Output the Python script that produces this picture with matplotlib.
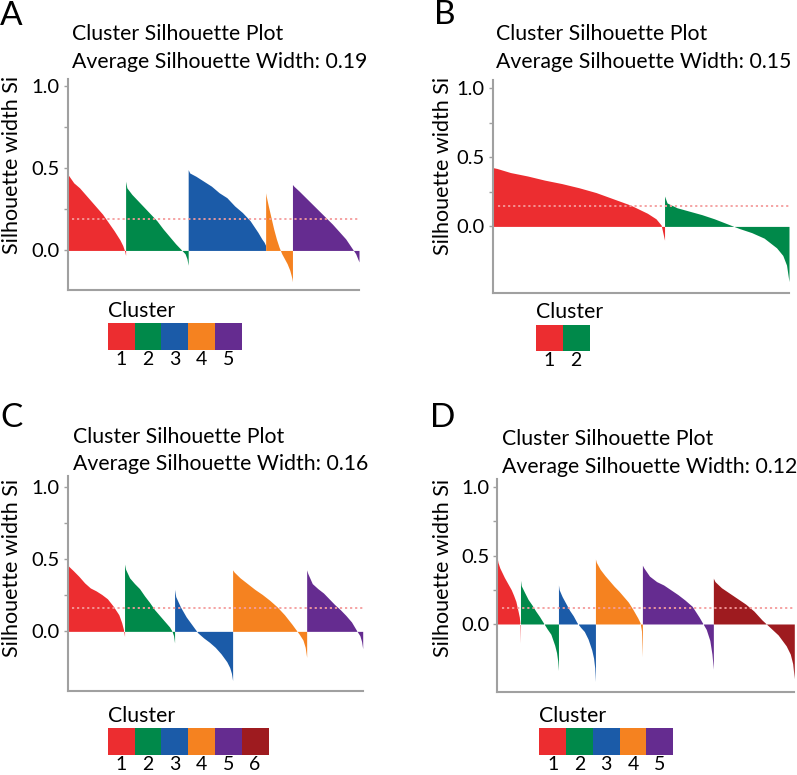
import matplotlib
matplotlib.use("Agg")
import matplotlib.pyplot as plt

plt.rcParams['font.family'] = ['Lato', 'DejaVu Sans']

W, H = 797, 775

COLORS = ['#EC2D30', '#00894A', '#1B5BA8', '#F58220', '#652C90', '#9E1B1F']
AVG_COLOR = '#F49C9C'

# positions along each cluster (fraction of its width) where the sorted
# silhouette values were read off
FRACS = [0, 0.02, 0.1, 0.2, 0.3, 0.4, 0.5, 0.6, 0.7, 0.8, 0.9, 0.95, 0.98, 1.0]

# panel A - 5 clusters
sizes_a = [58, 63, 78, 27, 67]
sil_a = [
    [0.46, 0.45, 0.41, 0.38, 0.34, 0.30, 0.26, 0.22, 0.17, 0.12, 0.065, 0.03, 0.0, -0.03],
    [0.42, 0.38, 0.34, 0.30, 0.26, 0.22, 0.18, 0.13, 0.085, 0.04, 0.0, -0.02, -0.05, -0.09],
    [0.49, 0.47, 0.45, 0.42, 0.39, 0.35, 0.32, 0.27, 0.23, 0.18, 0.11, 0.07, 0.05, 0.03],
    [0.35, 0.33, 0.27, 0.20, 0.13, 0.07, 0.02, -0.02, -0.05, -0.08, -0.12, -0.15, -0.17, -0.19],
    [0.40, 0.39, 0.36, 0.32, 0.28, 0.24, 0.20, 0.16, 0.115, 0.07, 0.01, -0.02, -0.05, -0.07],
]
avg_a = 0.19
legend_a = ['1', '2', '3', '4', '5']

# panel B - 2 clusters
sizes_b = [172, 125]
sil_b = [
    [0.425, 0.42, 0.39, 0.365, 0.335, 0.31, 0.28, 0.245, 0.20, 0.155, 0.095, 0.055, 0.01, -0.10],
    [0.22, 0.17, 0.135, 0.11, 0.085, 0.055, 0.02, -0.015, -0.045, -0.085, -0.155, -0.21, -0.28, -0.40],
]
avg_b = 0.15
legend_b = ['1', '2']

# panel C - 5 clusters (legend shows 6)
sizes_c = [57, 50, 58, 74, 56]
sil_c = [
    [0.465, 0.45, 0.42, 0.38, 0.335, 0.30, 0.28, 0.255, 0.225, 0.175, 0.115, 0.06, 0.015, -0.035],
    [0.465, 0.43, 0.37, 0.33, 0.295, 0.245, 0.20, 0.15, 0.11, 0.07, 0.03, 0.0, -0.03, -0.08],
    [0.29, 0.24, 0.17, 0.10, 0.045, -0.01, -0.045, -0.075, -0.11, -0.155, -0.21, -0.25, -0.29, -0.34],
    [0.425, 0.41, 0.37, 0.33, 0.29, 0.255, 0.215, 0.17, 0.115, 0.05, -0.02, -0.06, -0.11, -0.18],
    [0.425, 0.40, 0.33, 0.295, 0.265, 0.225, 0.185, 0.15, 0.11, 0.065, 0.0, -0.03, -0.07, -0.12],
]
avg_c = 0.16
legend_c = ['1', '2', '3', '4', '5', '6']

# panel D - 6 clusters (legend shows 5)
sizes_d = [23, 38, 37, 47, 71, 81]
sil_d = [
    [0.47, 0.45, 0.41, 0.375, 0.34, 0.31, 0.28, 0.25, 0.21, 0.165, 0.09, 0.05, 0.0, -0.14],
    [0.32, 0.28, 0.235, 0.18, 0.14, 0.095, 0.055, 0.01, -0.035, -0.075, -0.155, -0.21, -0.27, -0.34],
    [0.285, 0.25, 0.20, 0.15, 0.10, 0.06, 0.01, -0.025, -0.055, -0.11, -0.19, -0.25, -0.32, -0.42],
    [0.475, 0.45, 0.40, 0.355, 0.315, 0.275, 0.24, 0.20, 0.16, 0.105, 0.045, 0.01, -0.05, -0.24],
    [0.43, 0.41, 0.35, 0.31, 0.285, 0.25, 0.215, 0.175, 0.13, 0.05, -0.04, -0.12, -0.22, -0.33],
    [0.335, 0.31, 0.265, 0.225, 0.185, 0.145, 0.095, 0.03, -0.025, -0.08, -0.16, -0.22, -0.29, -0.40],
]
avg_d = 0.12
legend_d = ['1', '2', '3', '4', '5']

# layout in pixels: plot box (left, top, right, bottom), y range,
# letter pos, title pos, ylabel centre, key (left, title top, box top, box bottom)
panels = [
    ('A', sizes_a, sil_a, avg_a, legend_a,
     (68, 79, 359, 290), (-0.24, 1.04), (0, 25), (72, 40.5), (12, 165), (107.7, 302, 323.3, 350)),
    ('B', sizes_b, sil_b, avg_b, legend_b,
     (493.3, 80, 789, 292.7), (-0.48, 1.06), (434, 24), (496, 40), (443, 166), (536, 303, 325, 350.7)),
    ('C', sizes_c, sil_c, avg_c, legend_c,
     (67.5, 476.5, 362.7, 690.7), (-0.41, 1.07), (0, 427), (72.7, 442.7), (12, 568), (107.7, 708, 728.3, 755)),
    ('D', sizes_d, sil_d, avg_d, legend_d,
     (497.5, 479, 794.3, 691.7), (-0.495, 1.06), (430, 427), (501.7, 445), (443, 568), (539.3, 708, 728, 755)),
]


def fx(x):
    return x / W


def fy(y):
    return 1 - y / H


fig = plt.figure(figsize=(W / 100, H / 100), dpi=100)

for letter, sizes, sil, avg, leg, box, ylim, lpos, tpos, ypos, lg in panels:
    l, t, r, b = box
    ax = fig.add_axes([fx(l), fy(b), (r - l) / W, (b - t) / H])

    start = 0
    for i, (n, vals) in enumerate(zip(sizes, sil)):
        xs = [start + f * n for f in FRACS]
        ax.fill_between(xs, vals, 0, color=COLORS[i], linewidth=0)
        start += n
    ax.axhline(avg, xmin=0.015, color=AVG_COLOR, linestyle=(0, (1.2, 1.6)), lw=1.3, zorder=5)

    ax.set_xlim(0, start)
    ax.set_ylim(*ylim)
    ax.set_xticks([])
    ax.set_yticks([0, 0.5, 1.0])
    ax.set_yticklabels(['0.0', '0.5', '1.0'])
    ax.set_yticks([0.25, 0.75], minor=True)
    ax.tick_params(axis='y', which='both', length=3, width=1, color='#A0A0A0',
                   labelsize=14.5, pad=3)
    for s in ['top', 'right']:
        ax.spines[s].set_visible(False)
    for s in ['left', 'bottom']:
        ax.spines[s].set_color('#A0A0A0')
        ax.spines[s].set_linewidth(1.5)
    ax.set_facecolor('none')

    fig.text(fx(lpos[0]), fy(lpos[1]), letter, fontsize=24, va='baseline', ha='left')
    fig.text(fx(tpos[0]), fy(tpos[1]), 'Cluster Silhouette Plot', fontsize=15.3, va='baseline')
    fig.text(fx(tpos[0]), fy(tpos[1] + 27.7), 'Average Silhouette Width: %.2f' % avg,
             fontsize=15.3, va='baseline')
    fig.text(fx(ypos[0]), fy(ypos[1]), 'Silhouette width Si', fontsize=15.5,
             rotation=90, ha='center', va='center')

    # colour key under each panel
    gl, gt, bt, bb = lg
    k = len(leg)
    bw = 26.8
    lax = fig.add_axes([fx(gl), fy(bb), k * bw / W, (bb - bt) / H])
    lax.bar(range(k), [1] * k, width=1, color=COLORS[:k], linewidth=0)
    lax.set_xlim(-0.5, k - 0.5)
    lax.set_ylim(0, 1)
    lax.set_yticks([])
    lax.set_xticks(range(k))
    lax.set_xticklabels(leg)
    lax.tick_params(axis='x', length=0, labelsize=14, pad=1)
    for s in lax.spines.values():
        s.set_visible(False)
    fig.text(fx(gl), fy(bt - 6.5), 'Cluster', fontsize=15.3, va='baseline')

fig.savefig('out.png', dpi=100)
